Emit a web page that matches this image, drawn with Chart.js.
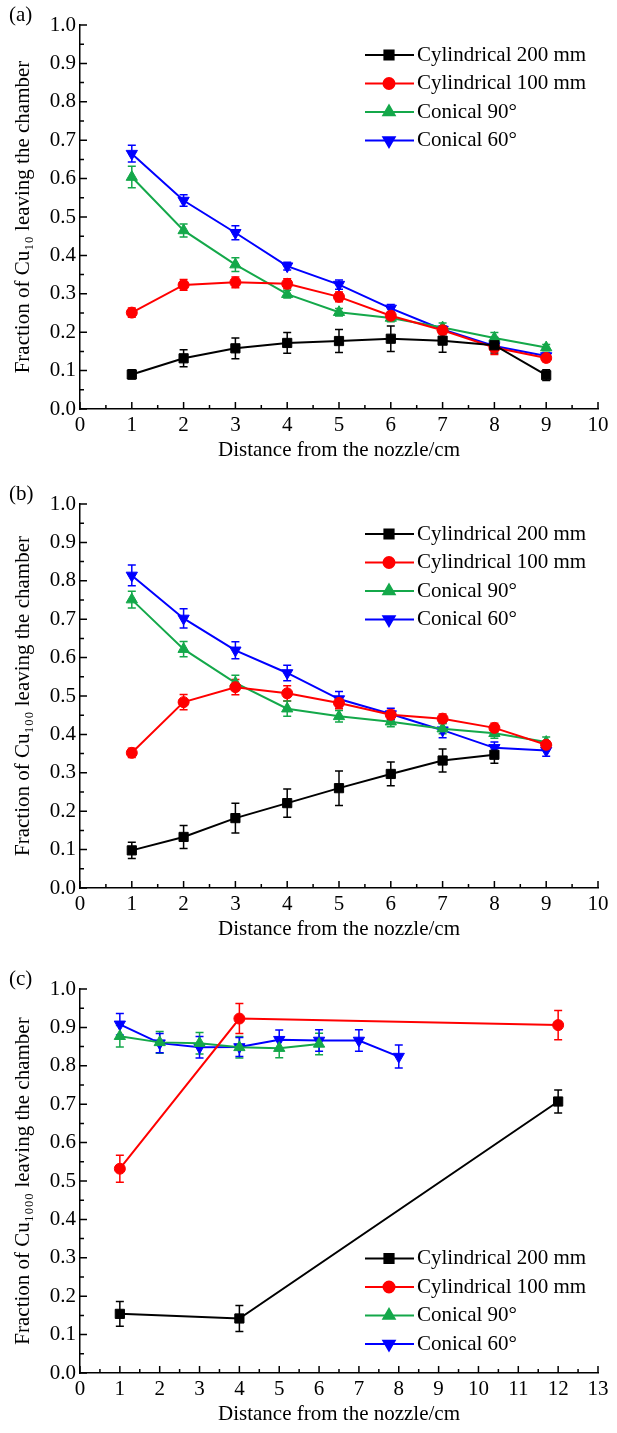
<!DOCTYPE html>
<html>
<head>
<meta charset="utf-8">
<script src="https://cdn.jsdelivr.net/npm/chart.js@4"></script>
<style>
  body { margin: 0; background: #fff; }
  .panel { position: absolute; left: 0; width: 617px; height: 480px; }
</style>
</head>
<body>
<div class="panel" style="top:0px"><canvas id="chartA" width="617" height="480"></canvas></div>
<div class="panel" style="top:479px"><canvas id="chartB" width="617" height="480"></canvas></div>
<div class="panel" style="top:964px"><canvas id="chartC" width="617" height="480"></canvas></div>
<script>
// series shared by the three panels
const seriesNames = ['Cylindrical 200 mm', 'Cylindrical 100 mm', 'Conical 90°', 'Conical 60°'];
const seriesColors = ['#000000', '#ff0000', '#14a84a', '#0000ff'];
const pointStyles = ['rect', 'circle', 'triangle', 'triangle'];
const pointRotations = [0, 0, 0, 180];
const pointRadii = [6.5, 5.5, 6.5, 6.5];

// (a) Cu10
const distA = [
  [1, 2, 3, 4, 5, 6, 7, 8, 9],
  [1, 2, 3, 4, 5, 6, 7, 8, 9],
  [1, 2, 3, 4, 5, 6, 7, 8, 9],
  [1, 2, 3, 4, 5, 6, 7, 8, 9]
];
const fracA = [
  [0.090, 0.132, 0.158, 0.172, 0.177, 0.183, 0.178, 0.166, 0.088],
  [0.251, 0.323, 0.330, 0.326, 0.292, 0.243, 0.205, 0.160, 0.133],
  [0.604, 0.465, 0.376, 0.299, 0.252, 0.237, 0.212, 0.185, 0.160],
  [0.665, 0.543, 0.459, 0.372, 0.324, 0.262, 0.207, 0.164, 0.138]
];
const errA = [
  [0.012, 0.022, 0.027, 0.027, 0.030, 0.033, 0.030, 0.020, 0.014],
  [0.012, 0.014, 0.014, 0.013, 0.013, 0.010, 0.010, 0.018, 0.010],
  [0.028, 0.017, 0.018, 0.010, 0.010, 0.010, 0.012, 0.014, 0.008],
  [0.022, 0.015, 0.018, 0.010, 0.012, 0.010, 0.010, 0.010, 0.008]
];

// (b) Cu100
const distB = [
  [1, 2, 3, 4, 5, 6, 7, 8],
  [1, 2, 3, 4, 5, 6, 7, 8, 9],
  [1, 2, 3, 4, 5, 6, 7, 8, 9],
  [1, 2, 3, 4, 5, 6, 7, 8, 9]
];
const fracB = [
  [0.098, 0.133, 0.182, 0.221, 0.260, 0.297, 0.332, 0.347],
  [0.352, 0.484, 0.523, 0.507, 0.482, 0.451, 0.441, 0.417, 0.373],
  [0.751, 0.622, 0.534, 0.467, 0.447, 0.433, 0.415, 0.403, 0.380],
  [0.814, 0.702, 0.619, 0.560, 0.492, 0.453, 0.411, 0.365, 0.358]
];
const errB = [
  [0.021, 0.030, 0.039, 0.037, 0.045, 0.031, 0.030, 0.022],
  [0.012, 0.020, 0.020, 0.020, 0.015, 0.012, 0.012, 0.012, 0.010],
  [0.022, 0.020, 0.020, 0.020, 0.015, 0.013, 0.013, 0.013, 0.013],
  [0.027, 0.025, 0.022, 0.020, 0.020, 0.015, 0.020, 0.015, 0.015]
];

// (c) Cu1000
const distC = [
  [1, 4, 12],
  [1, 4, 12],
  [1, 2, 3, 4, 5, 6],
  [1, 2, 3, 4, 5, 6, 7, 8]
];
const fracC = [
  [0.154, 0.142, 0.707],
  [0.532, 0.923, 0.906],
  [0.877, 0.861, 0.859, 0.848, 0.846, 0.857],
  [0.908, 0.859, 0.848, 0.849, 0.868, 0.866, 0.866, 0.824]
];
const errC = [
  [0.032, 0.034, 0.030],
  [0.035, 0.039, 0.038],
  [0.028, 0.028, 0.028, 0.028, 0.025, 0.028],
  [0.028, 0.025, 0.028, 0.025, 0.025, 0.028, 0.028, 0.030]
];

const fontStack = "'Liberation Serif', 'Times New Roman', serif";
Chart.defaults.font.family = fontStack;
Chart.defaults.font.size = 21;
Chart.defaults.color = '#000';

// error bars, drawn under the lines and markers
const errorBars = {
  id: 'errorBars',
  beforeDatasetsDraw(chart) {
    const { ctx, scales: { x, y } } = chart;
    chart.data.datasets.forEach(ds => {
      ctx.save();
      ctx.strokeStyle = ds.borderColor;
      ctx.lineWidth = 1.5;
      ds.data.forEach(p => {
        const px = x.getPixelForValue(p.x);
        const top = y.getPixelForValue(p.y + p.err);
        const bot = y.getPixelForValue(p.y - p.err);
        ctx.beginPath();
        ctx.moveTo(px, top); ctx.lineTo(px, bot);
        ctx.moveTo(px - 4, top); ctx.lineTo(px + 4, top);
        ctx.moveTo(px - 4, bot); ctx.lineTo(px + 4, bot);
        ctx.stroke();
      });
      ctx.restore();
    });
  }
};

// inward tick marks, major + minor
const innerTicks = {
  id: 'innerTicks',
  afterDraw(chart) {
    const { ctx, chartArea: area, scales: { x, y } } = chart;
    ctx.save();
    ctx.strokeStyle = '#000';
    ctx.lineWidth = 1.5;
    ctx.beginPath();
    for (let i = 0; i <= 20; i++) {
      const py = y.getPixelForValue(i * 0.05);
      const len = i % 2 === 0 ? 7 : 4;
      ctx.moveTo(area.left, py); ctx.lineTo(area.left + len, py);
    }
    for (let i = 0; i <= x.max * 2; i++) {
      const px = x.getPixelForValue(i * 0.5);
      const len = i % 2 === 0 ? 7 : 4;
      ctx.moveTo(px, area.bottom); ctx.lineTo(px, area.bottom - len);
    }
    ctx.stroke();
    ctx.restore();
  }
};

// Origin-style legend (line + marker) and panel letter
const lineLegend = {
  id: 'lineLegend',
  afterDraw(chart, args, opts) {
    const { ctx, chartArea: area } = chart;
    ctx.save();
    ctx.font = '21px ' + fontStack;
    ctx.fillStyle = '#000';
    ctx.textBaseline = 'middle';
    ctx.textAlign = 'left';
    ctx.fillText(opts.panel, 9, area.top - 10);
    chart.data.datasets.forEach((ds, i) => {
      const rowY = opts.anchor === 'top'
        ? area.top + 30 + i * 28.5
        : area.bottom - 29 - (3 - i) * 28.5;
      ctx.strokeStyle = ds.borderColor;
      ctx.lineWidth = 2;
      ctx.beginPath();
      ctx.moveTo(365, rowY); ctx.lineTo(414, rowY);
      ctx.stroke();
      ctx.fillStyle = ds.borderColor;
      Chart.helpers.drawPoint(ctx, {
        pointStyle: ds.pointStyle, radius: ds.pointRadius,
        rotation: ds.rotation, borderWidth: 1
      }, 389, rowY);
      ctx.fillStyle = '#000';
      ctx.fillText(ds.label, 417, rowY);
    });
    ctx.restore();
  }
};

function makeDatasets(dist, frac, err) {
  return seriesNames.map((name, i) => ({
    label: name,
    data: dist[i].map((d, j) => ({ x: d, y: frac[i][j], err: err[i][j] })),
    borderColor: seriesColors[i],
    backgroundColor: seriesColors[i],
    pointStyle: pointStyles[i],
    rotation: pointRotations[i],
    pointRadius: pointRadii[i],
    pointHoverRadius: pointRadii[i],
    pointBorderWidth: 1,
    borderWidth: 2,
    tension: 0
  }));
}

function makeChart(id, dist, frac, err, xMax, yLabel, panel, anchor) {
  new Chart(document.getElementById(id), {
    type: 'line',
    data: { datasets: makeDatasets(dist, frac, err) },
    options: {
      responsive: false,
      animation: false,
      layout: { padding: { top: 25, right: 19, left: 0, bottom: 0 } },
      plugins: {
        legend: { display: false },
        tooltip: { enabled: false },
        lineLegend: { panel: panel, anchor: anchor }
      },
      scales: {
        x: {
          type: 'linear', min: 0, max: xMax,
          grid: { display: false, drawTicks: false },
          border: { display: true, color: '#000', width: 1.5 },
          ticks: { stepSize: 1, padding: 4, maxRotation: 0, autoSkip: false },
          title: { display: true, text: 'Distance from the nozzle/cm', padding: { top: 0, bottom: 17 } },
          afterFit(scale) { scale.height = 71; }
        },
        y: {
          min: 0, max: 1,
          grid: { display: false, drawTicks: false },
          border: { display: true, color: '#000', width: 1.5 },
          ticks: { stepSize: 0.1, padding: 4, callback: v => v.toFixed(1) },
          title: { display: true, text: yLabel, padding: { top: 11, bottom: 0 } },
          afterFit(scale) { scale.width = 80; }
        }
      }
    },
    plugins: [errorBars, innerTicks, lineLegend]
  });
}

makeChart('chartA', distA, fracA, errA, 10, 'Fraction of Cu₁₀ leaving the chamber', '(a)', 'top');
makeChart('chartB', distB, fracB, errB, 10, 'Fraction of Cu₁₀₀ leaving the chamber', '(b)', 'top');
makeChart('chartC', distC, fracC, errC, 13, 'Fraction of Cu₁₀₀₀ leaving the chamber', '(c)', 'bottom');
</script>
</body>
</html>
